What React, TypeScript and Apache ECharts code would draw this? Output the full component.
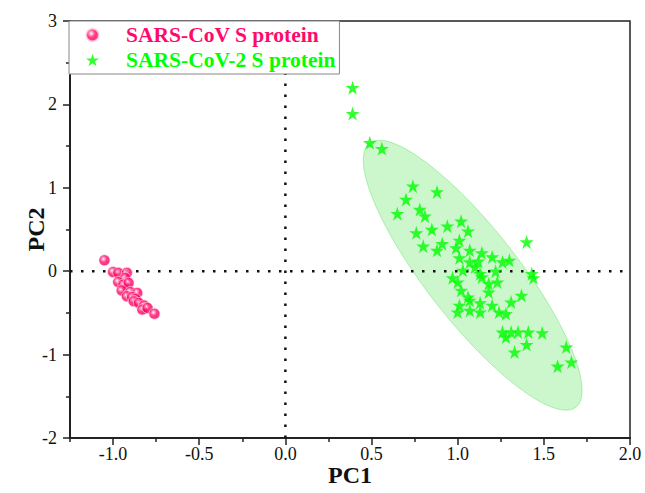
import React, { useEffect, useRef } from "react";
import * as echarts from "echarts";

const xTickValues = [-1.0, -0.5, 0.0, 0.5, 1.0, 1.5, 2.0];
const xMinorTickValues = [-1.25, -0.75, -0.25, 0.25, 0.75, 1.25, 1.75];
const seriesNames = ["SARS-CoV S protein", "SARS-CoV-2 S protein"];
// reference lines at PC1 = 0 and PC2 = 0: [x1, y1, x2, y2]
const zeroLines = [
  [0, -2, 0, 3],
  [-1.25, 0, 2.0, 0],
];

const sarsCov: number[][] = [
  [-1.05, 0.13], [-1.0, -0.01], [-0.97, -0.02], [-0.92, -0.02], [-0.93, -0.08],
  [-0.97, -0.13], [-0.94, -0.16], [-0.91, -0.14], [-0.95, -0.23], [-0.9, -0.25],
  [-0.86, -0.26], [-0.92, -0.3], [-0.89, -0.31], [-0.87, -0.33], [-0.88, -0.36],
  [-0.85, -0.38], [-0.82, -0.41], [-0.83, -0.46], [-0.8, -0.44], [-0.76, -0.51],
];

const sarsCov2: number[][] = [
  [0.39, 2.2], [0.39, 1.89], [0.49, 1.54], [0.56, 1.47], [0.74, 1.02],
  [0.88, 0.95], [0.7, 0.86], [0.65, 0.69], [0.78, 0.74], [0.81, 0.66],
  [0.76, 0.46], [0.85, 0.5], [0.94, 0.54], [1.02, 0.6], [1.06, 0.48],
  [1.01, 0.37], [0.8, 0.3], [0.88, 0.25], [0.91, 0.33], [1.07, 0.25],
  [1.14, 0.22], [1.4, 0.35], [1.01, 0.16], [1.07, 0.11], [1.2, 0.17],
  [1.26, 0.11], [1.3, 0.13], [1.03, 0.01], [1.1, 0.05], [1.13, -0.03],
  [1.22, 0.0], [0.97, -0.08], [1.0, -0.13], [1.14, -0.07], [1.44, -0.08],
  [1.43, -0.03], [1.18, -0.15], [1.23, -0.13], [1.02, -0.23], [1.18, -0.25],
  [1.06, -0.31], [1.37, -0.29], [1.01, -0.41], [1.07, -0.35], [1.13, -0.38],
  [1.2, -0.41], [1.31, -0.37], [1.0, -0.49], [1.07, -0.47], [1.13, -0.49],
  [1.24, -0.49], [1.28, -0.51], [1.26, -0.73], [1.31, -0.73], [1.35, -0.73],
  [1.28, -0.79], [1.41, -0.73], [1.49, -0.74], [1.4, -0.88], [1.33, -0.97],
  [1.63, -0.91], [1.66, -1.09], [1.58, -1.14], [0.99, 0.28], [1.12, 0.12],
];

// confidence ellipse of SARS-CoV-2 group (data units): centre, semi-axis vectors
const ellipseCenter = [1.087, -0.048];
const ellipseMajor = [0.599, -1.583];
const ellipseMinor = [-0.211, -0.339];

const STAR =
  "path://M50,0 L61.2,34.5 L97.6,34.5 L68.2,55.9 L79.4,90.5 L50,69.1 L20.6,90.5 L31.8,55.9 L2.4,34.5 L38.8,34.5 Z";
const FONT = "'Liberation Serif', 'Times New Roman', serif";
const PINK = "#ff0a6a";
const GREEN = "#00ff00";

export default function App() {
  const ref = useRef<HTMLDivElement>(null);
  useEffect(() => {
    if (!ref.current) return;
    const chart = echarts.init(ref.current, null, { renderer: "svg" });
    const pinkFill = new echarts.graphic.RadialGradient(0.4, 0.38, 0.62, [
      { offset: 0, color: "#ffffff" },
      { offset: 0.22, color: "#ff8ab5" },
      { offset: 0.5, color: PINK },
      { offset: 1, color: "#f0005e" },
    ]);
    const option: any = {
      animation: false,
      backgroundColor: "#ffffff",
      grid: {
        left: 70, right: 15, top: 21, bottom: 55,
        show: true, borderColor: "#222", borderWidth: 1.5,
      },
      legend: {
        orient: "vertical",
        left: 69,
        top: 21,
        padding: [3, 4, 3, 16],
        itemGap: 3,
        itemWidth: 13,
        itemHeight: 13,
        borderColor: "#888",
        borderWidth: 1,
        backgroundColor: "#ffffff",
        data: [
          { name: seriesNames[0], icon: "circle", textStyle: { color: PINK } },
          { name: seriesNames[1], icon: STAR, textStyle: { color: GREEN } },
        ],
        textStyle: {
          fontFamily: FONT, fontSize: 21.5, fontWeight: "bold", padding: [0, 0, 0, 22],
        },
      },
      xAxis: [
        {
          type: "value", min: -1.25, max: 2.0, position: "bottom",
          splitLine: { show: false },
          axisLine: { onZero: false, lineStyle: { color: "#222", width: 2 } },
          axisTick: { customValues: xTickValues, length: 7, lineStyle: { color: "#222", width: 1.5 } },
          axisLabel: {
            customValues: xTickValues, margin: 7,
            formatter: (v: number) => v.toFixed(1),
            fontFamily: FONT, fontSize: 18, color: "#111",
          },
          name: "PC1", nameLocation: "middle", nameGap: 25, nameMoveOverlap: false,
          nameTextStyle: { fontFamily: FONT, fontSize: 24, fontWeight: "bold", color: "#111" },
        },
        {
          type: "value", min: -1.25, max: 2.0, position: "bottom",
          splitLine: { show: false },
          axisLine: { show: false, onZero: false },
          axisTick: { customValues: xMinorTickValues, length: 4, lineStyle: { color: "#222", width: 1.5 } },
          axisLabel: { show: false },
        },
      ],
      yAxis: {
        type: "value", min: -2, max: 3, interval: 1,
        splitLine: { show: false },
        axisLine: { onZero: false, lineStyle: { color: "#222", width: 2 } },
        axisTick: { length: 7, lineStyle: { color: "#222", width: 1.5 } },
        minorTick: { show: true, splitNumber: 2, length: 4, lineStyle: { color: "#222", width: 1.5 } },
        axisLabel: { margin: 13, fontFamily: FONT, fontSize: 18, color: "#111" },
        name: "PC2", nameLocation: "middle", nameGap: 22, nameMoveOverlap: false,
        nameTextStyle: { fontFamily: FONT, fontSize: 24, fontWeight: "bold", color: "#111" },
      },
      series: [
        {
          type: "custom",
          silent: true,
          z: 1,
          data: [ellipseCenter],
          encode: { x: 0, y: 1 },
          renderItem: (_params: any, api: any) => {
            const pts: number[][] = [];
            for (let i = 0; i < 120; i++) {
              const t = (i / 120) * Math.PI * 2;
              const x = ellipseCenter[0] + Math.cos(t) * ellipseMajor[0] + Math.sin(t) * ellipseMinor[0];
              const y = ellipseCenter[1] + Math.cos(t) * ellipseMajor[1] + Math.sin(t) * ellipseMinor[1];
              pts.push(api.coord([x, y]));
            }
            return {
              type: "polygon",
              shape: { points: pts },
              style: { fill: "rgba(0,210,0,0.2)", stroke: "rgba(0,200,0,0.25)", lineWidth: 1 },
            };
          },
        },
        {
          type: "custom",
          silent: true,
          z: 2,
          data: zeroLines,
          encode: { x: [0, 2], y: [1, 3] },
          renderItem: (_params: any, api: any) => {
            const p1 = api.coord([api.value(0), api.value(1)]);
            const p2 = api.coord([api.value(2), api.value(3)]);
            return {
              type: "line",
              shape: { x1: p1[0], y1: p1[1], x2: p2[0], y2: p2[1] },
              style: { stroke: "#111", lineWidth: 2.5, lineDash: [2.5, 8.5], fill: null },
            };
          },
        },
        {
          name: seriesNames[0],
          type: "scatter",
          z: 3,
          symbol: "circle",
          symbolSize: 11,
          itemStyle: { color: pinkFill, borderColor: "#ffe0ec", borderWidth: 0.8 },
          data: sarsCov,
        },
        {
          name: seriesNames[1],
          type: "scatter",
          z: 4,
          symbol: STAR,
          symbolSize: 14,
          itemStyle: { color: GREEN },
          data: sarsCov2,
        },
      ],
    };
    chart.setOption(option);
    return () => chart.dispose();
  }, []);
  return (
    <div
      ref={ref}
      style={{ position: "fixed", left: 0, top: 0, width: 645, height: 493 }}
    />
  );
}
